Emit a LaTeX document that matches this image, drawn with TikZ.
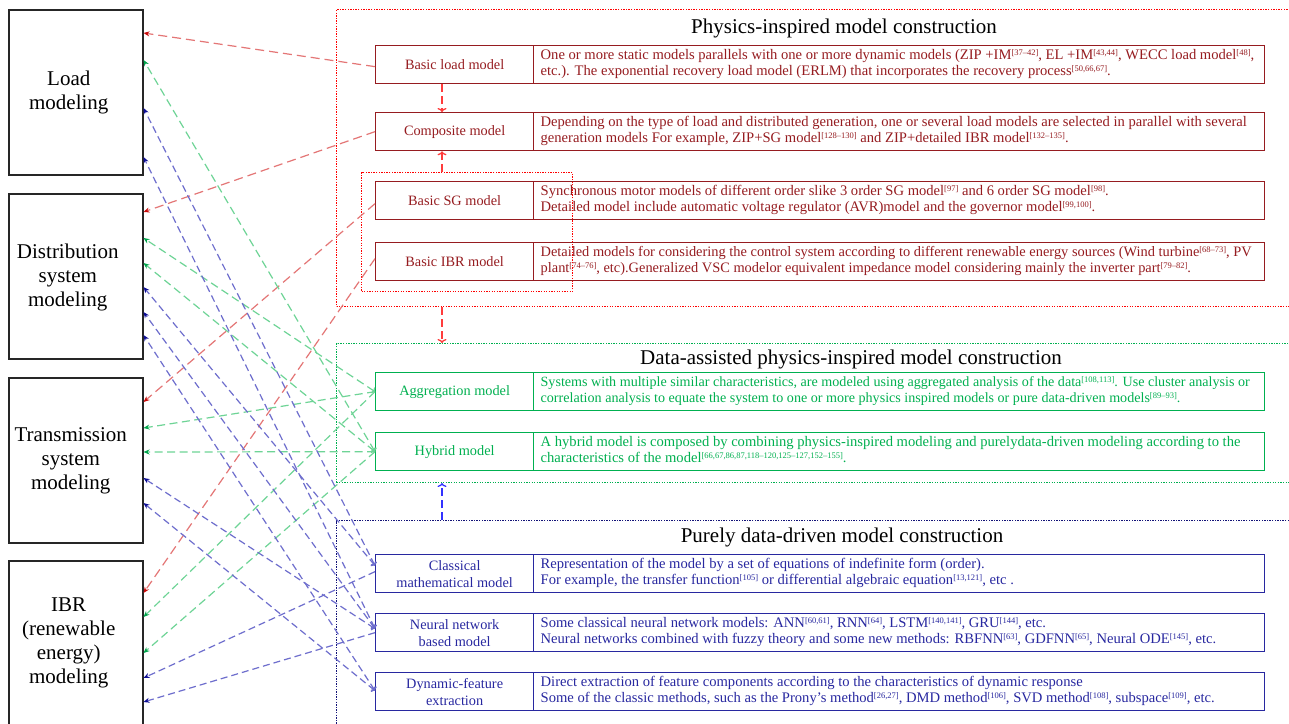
\documentclass[tikz,border=0pt]{standalone}
\usepackage{fontspec}
\setmainfont{Liberation Serif}
\usetikzlibrary{arrows.meta,calc}
\definecolor{dred}{RGB}{150,28,32}
\definecolor{bred}{RGB}{255,0,0}
\definecolor{rline}{RGB}{228,118,118}
\definecolor{rhead}{RGB}{200,10,10}
\definecolor{vred}{RGB}{255,60,60}
\definecolor{grn}{RGB}{0,176,80}
\definecolor{gline}{RGB}{110,212,150}
\definecolor{ghead}{RGB}{0,165,75}
\definecolor{nav}{RGB}{40,40,160}
\definecolor{bline}{RGB}{110,110,205}
\definecolor{bhead}{RGB}{15,15,150}
\definecolor{bdot}{RGB}{20,20,120}
\definecolor{vblue}{RGB}{50,50,255}
\newcommand{\citeup}[1]{\raisebox{0.6ex}{\fontsize{8.5}{8.5}\selectfont[#1]}}
\newcommand{\dsc}[2]{\makebox[717pt][l]{\begin{tabular}{@{}l@{}}#1\\#2\end{tabular}}}
\begin{document}
\begin{tikzpicture}[x=1pt,y=-1pt,
  lbox/.style={draw=black!85, line width=1.5pt, minimum width=134pt, minimum height=165pt, anchor=north west, inner sep=0pt},
  ltext/.style={align=center, font=\fontsize{21}{24}\selectfont},
  sec/.style={line width=1pt, dash pattern=on 1.3pt off 1.3pt, anchor=north west, inner sep=0pt, minimum width=964pt},
  ttl/.style={font=\fontsize{21}{24}\selectfont, text=black},
  namebox/.style={draw, line width=1.3pt, minimum width=158pt, minimum height=38pt, anchor=north west, inner sep=1pt, align=center, font=\fontsize{14.3}{17}\selectfont},
  descbox/.style={draw, line width=1.3pt, minimum width=731pt, minimum height=38pt, anchor=north west, inner xsep=7pt, inner ysep=1pt, font=\fontsize{14.6}{16}\selectfont},
  rc/.style={draw=dred, text=dred},
  gc/.style={draw=grn, text=grn},
  bc/.style={draw=nav, text=nav},
  conn/.style={line width=1.2pt},
  rconn/.style={conn, draw=rline, dash pattern=on 9pt off 5pt, -{Stealth[color=rhead,length=6pt,width=5pt]}},
  gconn/.style={conn, draw=gline, dash pattern=on 8pt off 4.5pt, -{Stealth[color=ghead,length=6pt,width=5pt]}},
  gconnb/.style={conn, draw=gline, dash pattern=on 8pt off 4.5pt, {To[color=gline,length=3pt,width=7pt]}-{Stealth[color=ghead,length=6pt,width=5pt]}},
  bconn/.style={conn, draw=bline, dash pattern=on 7pt off 4pt, -{Stealth[color=bhead,length=6pt,width=5pt]}},
  bconnb/.style={conn, draw=bline, dash pattern=on 7pt off 4pt, {To[color=bline,length=3pt,width=7pt]}-{Stealth[color=bhead,length=6pt,width=5pt]}},
  varr/.style={line width=1.3pt, dash pattern=on 8pt off 4pt, -{To[length=4pt,width=9pt]}}
]
\clip (0,0) rectangle (1289,723);
\fill[white] (0,0) rectangle (1289,723);

% left boxes
\node[lbox] (load) at (8,9) {};
\node[lbox] (dist) at (8,193) {};
\node[lbox] (trans) at (8,377) {};
\node[lbox] (ibrm) at (8,560) {};
\node[ltext] at ($(load.center)+(-7,0)$) {Load\\modeling};
\node[ltext] at ($(dist.center)+(-8,1)$) {Distribution\\system\\modeling};
\node[ltext] at ($(trans.center)+(-5,1)$) {Transmission\\system\\modeling};
\node[ltext] at ($(ibrm.center)+(-7,0)$) {IBR\\(renewable\\energy)\\modeling};

% section frames
\node[sec, draw=bred, minimum height=297pt] (physec) at (336,9) {};
\node[sec, draw=grn, minimum height=139pt] (datsec) at (336,343) {};
\node[sec, draw=bdot, minimum height=210pt] (pursec) at (336,520) {};
\node[sec, draw=bred, minimum width=211pt, minimum height=119pt] (inner) at (361,172) {};

% titles
\node[ttl] (t1) at (844,28) {Physics-inspired model construction};
\node[ttl] (t2) at (851,359) {Data-assisted physics-inspired model construction};
\node[ttl] (t3) at (842,537) {Purely data-driven model construction};

% red models
\node[namebox, rc] (bl) at (375,45) {Basic load model};
\node[descbox, rc] (bld) at (533,45) {\dsc{One or more static models parallels with one or more dynamic models (ZIP +IM\citeup{37--42}, EL +IM\citeup{43,44}, WECC load model\citeup{48},}{etc.). The exponential recovery load model (ERLM) that incorporates the recovery process\citeup{50,66,67}.}};
\node[namebox, rc] (cp) at (375,112) {Composite model};
\node[descbox, rc] (cpd) at (533,112) {\dsc{Depending on the type of load and distributed generation, one or several load models are selected in parallel with several}{generation models For example, ZIP+SG model\citeup{128--130} and ZIP+detailed IBR model\citeup{132--135}.}};
\node[namebox, rc] (sg) at (375,181) {Basic SG model};
\node[descbox, rc] (sgd) at (533,181) {\dsc{Synchronous motor models of different order slike 3 order SG model\citeup{97} and 6 order SG model\citeup{98}.}{Detailed model include automatic voltage regulator (AVR)model and the governor model\citeup{99,100}.}};
\node[namebox, rc] (ibr) at (375,242) {Basic IBR model};
\node[descbox, rc, font=\fontsize{14.4}{16}\selectfont] (ibrd) at (533,242) {\dsc{Detailed models for considering the control system according to different renewable energy sources (Wind turbine\citeup{68--73}, PV}{plant\citeup{74--76}, etc).Generalized VSC modelor equivalent impedance model considering mainly the inverter part\citeup{79--82}.}};

% green models
\node[namebox, gc] (ag) at (375,372) {Aggregation model};
\node[descbox, gc, font=\fontsize{14.1}{16}\selectfont] (agd) at (533,372) {\dsc{Systems with multiple similar characteristics, are modeled using aggregated analysis of the data\citeup{108,113}. Use cluster analysis or}{correlation analysis to equate the system to one or more physics inspired models or pure data-driven models\citeup{89--93}.}};
\node[namebox, gc] (hy) at (375,432) {Hybrid model};
\node[descbox, gc] (hyd) at (533,432) {\dsc{A hybrid model is composed by combining physics-inspired modeling and purelydata-driven modeling according to the}{characteristics of the model\citeup{66,67,86,87,118--120,125--127,152--155}.}};

% blue models
\node[namebox, bc] (cm) at (375,554) {Classical\\mathematical model};
\node[descbox, bc] (cmd) at (533,554) {\dsc{Representation of the model by a set of equations of indefinite form (order).}{For example, the transfer function\citeup{105} or differential algebraic equation\citeup{13,121}, etc .}};
\node[namebox, bc] (nn) at (375,613) {Neural network\\based model};
\node[descbox, bc] (nnd) at (533,613) {\dsc{Some classical neural network models: ANN\citeup{60,61}, RNN\citeup{64}, LSTM\citeup{140,141}, GRU\citeup{144}, etc.}{Neural networks combined with fuzzy theory and some new methods: RBFNN\citeup{63}, GDFNN\citeup{65}, Neural ODE\citeup{145}, etc.}};
\node[namebox, bc] (df) at (375,672) {Dynamic-feature\\extraction};
\node[descbox, bc] (dfd) at (533,672) {\dsc{Direct extraction of feature components according to the characteristics of dynamic response}{Some of the classic methods, such as the Prony's method\citeup{26,27}, DMD method\citeup{106}, SVD method\citeup{108}, subspace\citeup{109}, etc.}};

% vertical arrows
\draw[varr, vred] ([xshift=67pt]bl.south west) -- ([xshift=67pt]cp.north west);
\draw[varr, vred] ([xshift=81pt]inner.north west) -- ([xshift=67pt]cp.south west);
\draw[varr, vred] ([xshift=106pt]physec.south west) -- ([xshift=106pt]datsec.north west);
\draw[varr, vblue] ([xshift=106pt]pursec.north west) -- ([xshift=106pt]datsec.south west);

% red connectors
\draw[rconn] ([yshift=-2pt]bl.west) -- ($(load.north east)+(0,24)$);
\draw[rconn] (cp.west) -- ($(dist.north east)+(0,19)$);
\draw[rconn] ([yshift=-3pt]sg.west) -- ($(trans.north east)+(0,25)$);
\draw[rconn] ([yshift=3pt]ibr.west) -- ($(ibrm.north east)+(0,33)$);

% green connectors
\draw[gconnb] (hy.west) -- ($(load.north east)+(0,51)$);
\draw[gconnb] (ag.west) -- ($(dist.north east)+(0,45)$);
\draw[gconnb] (hy.west) -- ($(dist.north east)+(0,70)$);
\draw[gconn] (ag.west) -- ($(trans.north east)+(0,51)$);
\draw[gconn] (hy.west) -- ($(trans.north east)+(0,75)$);
\draw[gconn] (ag.west) -- ($(ibrm.north east)+(0,57)$);
\draw[gconn] (hy.west) -- ($(ibrm.north east)+(0,93)$);

% blue connectors
\draw[bconnb] ([yshift=8pt]cm.west) -- ($(load.north east)+(0,99)$);
\draw[bconnb] ([yshift=4pt]nn.west) -- ($(load.north east)+(0,148)$);
\draw[bconnb] ([yshift=8pt]cm.west) -- ($(dist.north east)+(0,94)$);
\draw[bconnb] ([yshift=4pt]nn.west) -- ($(dist.north east)+(0,119)$);
\draw[bconnb] ([yshift=1pt]df.west) -- ($(dist.north east)+(0,142)$);
\draw[bconnb] ([yshift=4pt]nn.west) -- ($(trans.north east)+(0,101)$);
\draw[bconnb] ([yshift=1pt]df.west) -- ($(trans.north east)+(0,126)$);
\draw[bconn] ([yshift=2pt]cm.west) -- ($(ibrm.north east)+(0,118)$);
\draw[bconn] (nn.west) -- ($(ibrm.north east)+(0,142)$);
\end{tikzpicture}
\end{document}
